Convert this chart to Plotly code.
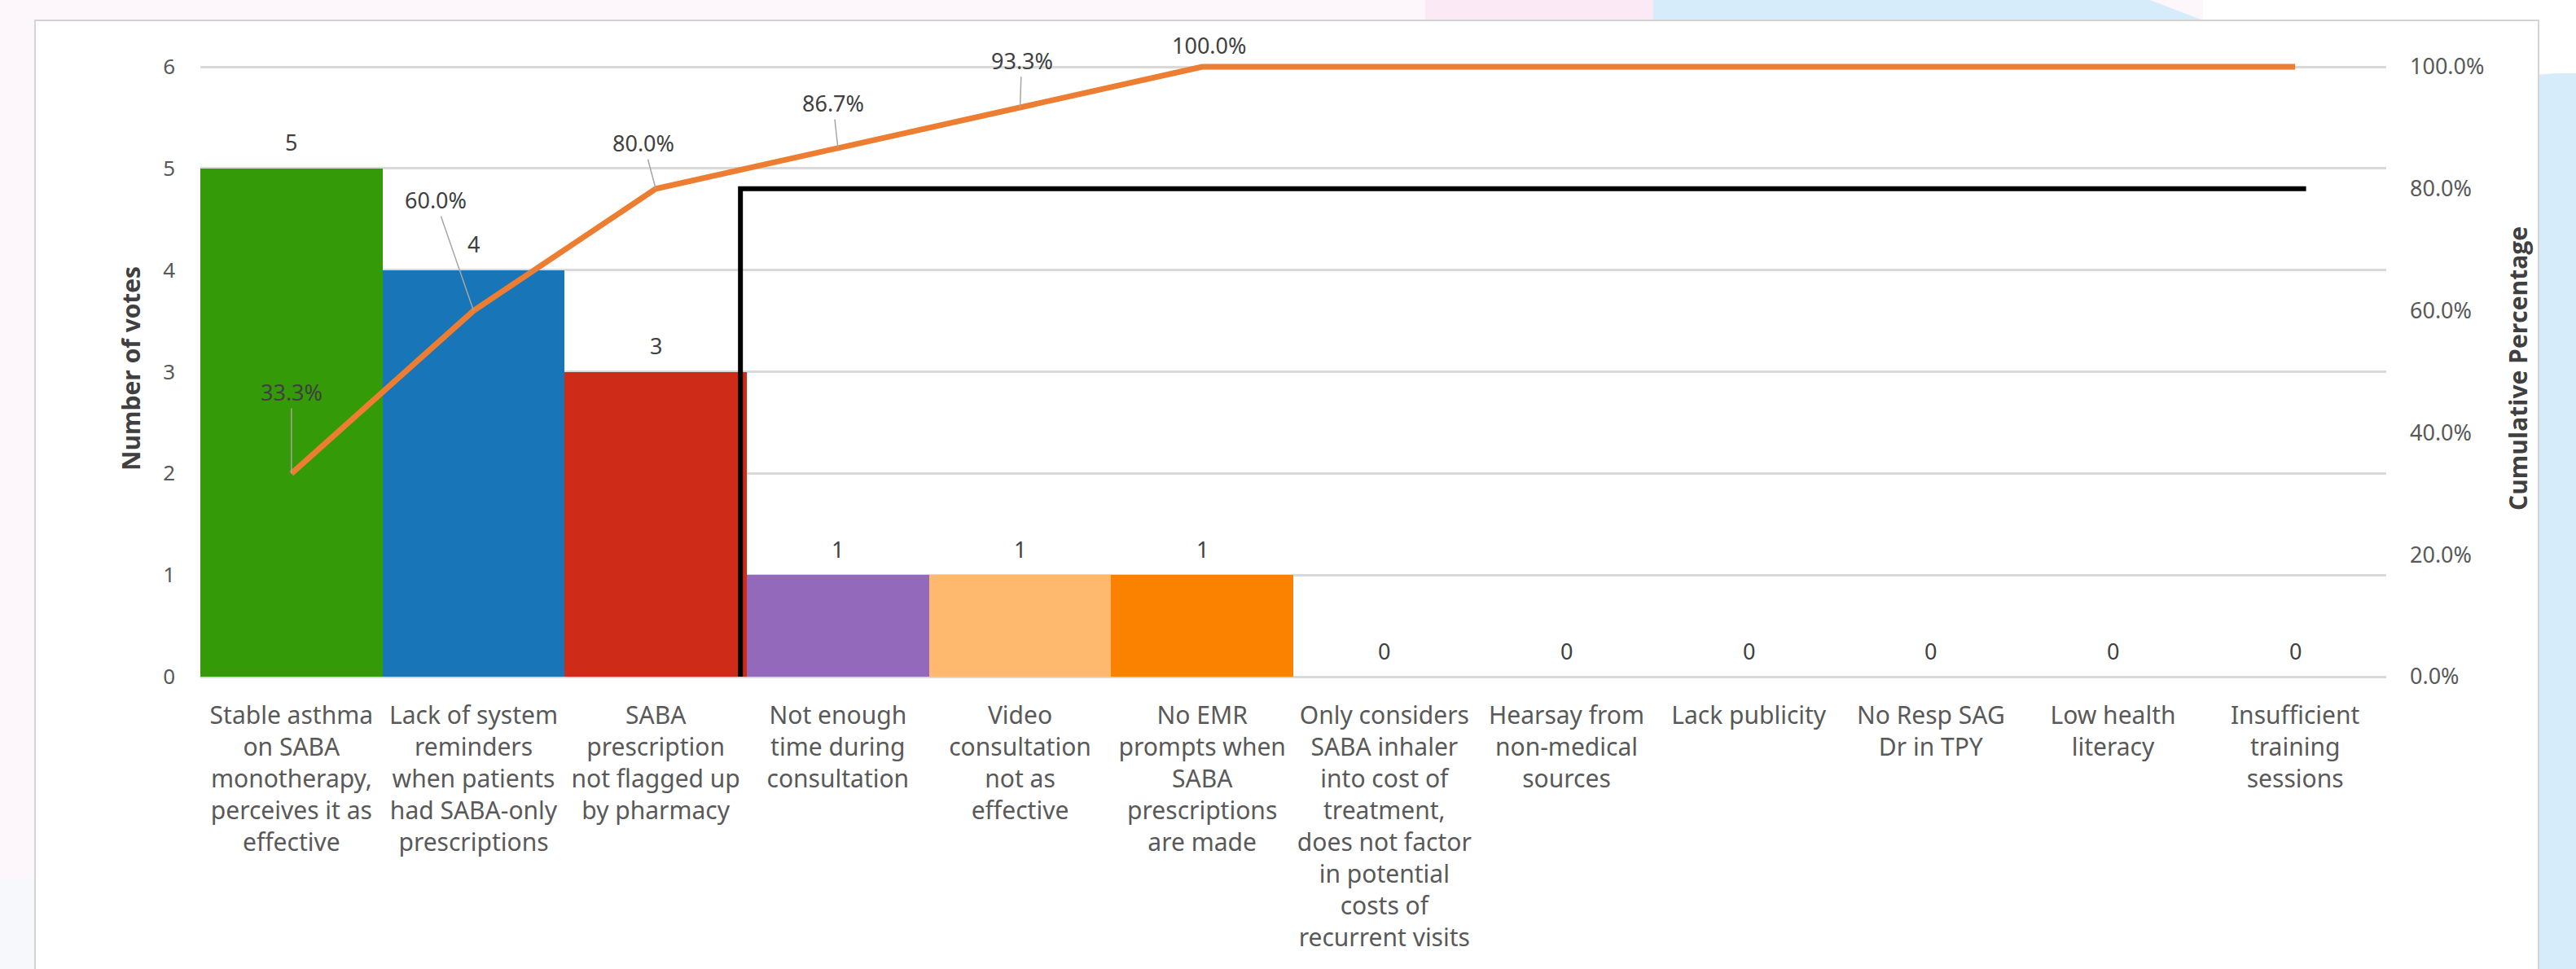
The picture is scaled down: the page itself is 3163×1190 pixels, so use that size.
import plotly.graph_objects as go

# ---------------- data ----------------
categories = [
    "Stable asthma\non SABA\nmonotherapy,\nperceives it as\neffective",
    "Lack of system\nreminders\nwhen patients\nhad SABA-only\nprescriptions",
    "SABA\nprescription\nnot flagged up\nby pharmacy",
    "Not enough\ntime during\nconsultation",
    "Video\nconsultation\nnot as\neffective",
    "No EMR\nprompts when\nSABA\nprescriptions\nare made",
    "Only considers\nSABA inhaler\ninto cost of\ntreatment,\ndoes not factor\nin potential\ncosts of\nrecurrent visits",
    "Hearsay from\nnon-medical\nsources",
    "Lack publicity",
    "No Resp SAG\nDr in TPY",
    "Low health\nliteracy",
    "Insufficient\ntraining\nsessions",
]
votes = [5, 4, 3, 1, 1, 1, 0, 0, 0, 0, 0, 0]
cumulative_pct = [0.333, 0.600, 0.800, 0.867, 0.933, 1.0, 1.0, 1.0, 1.0, 1.0, 1.0, 1.0]
labelled_points = [0, 1, 2, 3, 4, 5]
bar_colors = ["#359A07", "#1875B8", "#CE2B18", "#9369BC", "#FFB96E", "#FB8200",
              "#A0A0A0", "#A0A0A0", "#A0A0A0", "#A0A0A0", "#A0A0A0", "#A0A0A0"]
vote_ticks = [0, 1, 2, 3, 4, 5, 6]
pct_ticks = [0.0, 0.2, 0.4, 0.6, 0.8, 1.0]
cutoff_x = [2.465, 2.465, 11.06]
cutoff_y = [-0.006, 0.80, 0.80]

# ---------------- layout geometry / styles ----------------
W, H = 3163, 1190
L, R, T, B = 246, 233, 74, 359
PW, PH = W - L - R, H - T - B
TOP_GRID = 82                       # pixel row of the "6" / "100%" line
HEAD = (PH) / (H - B - TOP_GRID)    # headroom factor so the 100% line isn't clipped

def px(X):
    return (X - L) / PW

def py(Y):
    return 1 - (Y - T) / PH

FONT = "Noto Sans, Open Sans, Liberation Sans, sans-serif"
TXT = "#595959"
DARK = "#404040"
GRID = "#d9d9d9"

# offsets (pixels) of the percentage labels relative to their points
pct_offsets = [(0, -100), (-47, -136), (-15, -56), (-6, -55), (2, -58), (8, -27)]

idx = list(range(len(categories)))
ticktext = [c.replace("\n", "<br>") for c in categories]

fig = go.Figure()

fig.add_trace(go.Bar(
    x=idx, y=votes, width=1.0,
    marker=dict(color=bar_colors, line=dict(width=0)),
    showlegend=False, hoverinfo="skip",
))

fig.add_trace(go.Scatter(
    x=idx, y=cumulative_pct, yaxis="y2", mode="lines",
    line=dict(color="#ED7D31", width=7),
    showlegend=False, hoverinfo="skip",
))

fig.add_trace(go.Scatter(
    x=cutoff_x, y=cutoff_y, yaxis="y2", mode="lines",
    line=dict(color="#000000", width=6),
    showlegend=False, hoverinfo="skip",
))

annotations = []
for i, v in zip(idx, votes):
    annotations.append(dict(
        x=i, y=v, xref="x", yref="y", text=str(v), showarrow=False,
        yshift=32, font=dict(family=FONT, size=27, color=DARK),
    ))
for k, i in enumerate(labelled_points):
    ax, ay = pct_offsets[k]
    txt = f"{cumulative_pct[i] * 100:.1f}%"
    if abs(ay) > 40:
        annotations.append(dict(
            x=i, y=cumulative_pct[i], xref="x", yref="y2", text=txt,
            showarrow=True, arrowhead=0, arrowwidth=1.5, arrowcolor="#a6a6a6",
            ax=ax, ay=ay, standoff=0,
            font=dict(family=FONT, size=27, color=DARK),
        ))
    else:
        annotations.append(dict(
            x=i, y=cumulative_pct[i], xref="x", yref="y2", text=txt,
            showarrow=False, xshift=ax, yshift=-ay,
            font=dict(family=FONT, size=27, color=DARK),
        ))

# background decorations (pixel -> paper)
LB = "#d6ecfa"
shapes = [
    dict(type="rect", xref="paper", yref="paper", layer="below",
         x0=px(1750), x1=px(2040), y0=py(25), y1=py(0),
         fillcolor="#fbe9f5", line=dict(width=0)),
    dict(type="path", xref="paper", yref="paper", layer="below",
         path=f"M {px(2030)},{py(0)} L {px(2640)},{py(0)} L {px(2705)},{py(25)} L {px(2030)},{py(25)} Z",
         fillcolor=LB, line=dict(width=0)),
    dict(type="rect", xref="paper", yref="paper", layer="below",
         x0=px(2705), x1=px(W), y0=py(25), y1=py(0),
         fillcolor="#ffffff", line=dict(width=0)),
    dict(type="path", xref="paper", yref="paper", layer="below",
         path=f"M {px(3117)},{py(92)} L {px(W)},{py(88)} L {px(W)},{py(H)} L {px(3117)},{py(H)} Z",
         fillcolor=LB, line=dict(width=0)),
    dict(type="rect", xref="paper", yref="paper", layer="below",
         x0=px(3117), x1=px(W), y0=py(90), y1=py(25),
         fillcolor="#ffffff", line=dict(width=0)),
    dict(type="rect", xref="paper", yref="paper", layer="below",
         x0=px(0), x1=px(43), y0=py(H), y1=py(1080),
         fillcolor="#f6f8fc", line=dict(width=0)),
    dict(type="rect", xref="paper", yref="paper", layer="below",
         x0=px(43), x1=px(3117), y0=py(H + 5), y1=py(25),
         fillcolor="#ffffff", line=dict(color="#d4d4d4", width=2)),
]

fig.update_layout(
    width=W, height=H,
    margin=dict(l=L, r=R, t=T, b=B, pad=0),
    paper_bgcolor="#fdf6fb",
    plot_bgcolor="rgba(0,0,0,0)",
    bargap=0,
    font=dict(family=FONT, color=TXT),
    showlegend=False,
    shapes=shapes,
    annotations=annotations,
    xaxis=dict(
        range=[-0.5, len(categories) - 0.5],
        tickmode="array", tickvals=idx, ticktext=ticktext,
        tickfont=dict(family=FONT, size=30, color=TXT),
        showgrid=False, zeroline=False, showline=False,
        ticks="", ticklabelstandoff=27, tickangle=0,
    ),
    yaxis=dict(
        range=[0, vote_ticks[-1] * HEAD], tickmode="array", tickvals=vote_ticks,
        tickfont=dict(family=FONT, size=26, color=TXT),
        showgrid=True, gridcolor=GRID, gridwidth=3,
        zeroline=True, zerolinecolor=GRID, zerolinewidth=3,
        showline=False, ticks="", ticklabelstandoff=30,
        title=dict(text="<b>Number of votes</b>", standoff=18,
                   font=dict(family="Open Sans, Noto Sans, sans-serif", size=30, color=DARK)),
    ),
    yaxis2=dict(
        range=[0, pct_ticks[-1] * HEAD], overlaying="y", side="right",
        tickmode="array", tickvals=pct_ticks, tickformat=".1%",
        tickfont=dict(family=FONT, size=27, color=TXT),
        showgrid=False, zeroline=False, showline=False,
        ticks="", ticklabelstandoff=28,
        title=dict(text="<b>Cumulative Percentage</b>", standoff=32,
                   font=dict(family="Open Sans, Noto Sans, sans-serif", size=30, color=DARK)),
    ),
)

fig.write_html("out.html")
